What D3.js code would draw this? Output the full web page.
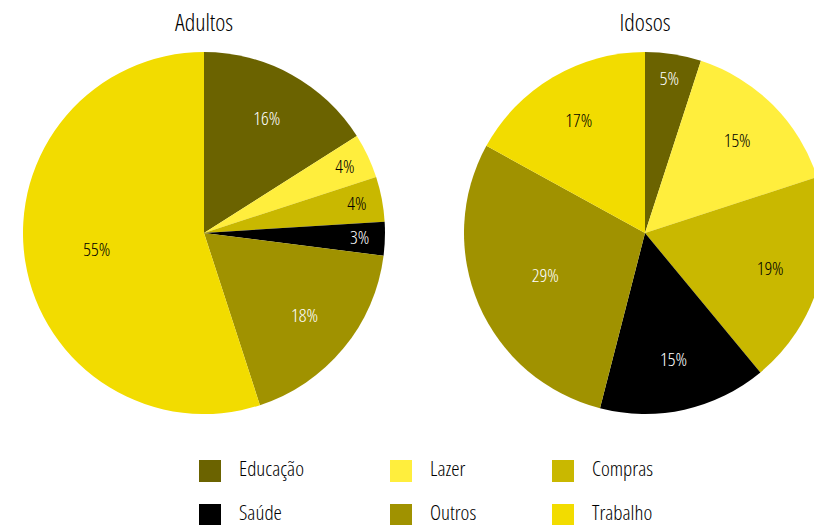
<!DOCTYPE html>
<html>
<head>
<meta charset="utf-8">
<script src="https://cdn.jsdelivr.net/npm/d3@7"></script>
<style>
  body { margin: 0; background: #fff; }
  svg { display: block; }
  text { font-family: "Open Sans", "Roboto", sans-serif; font-stretch: 75%; font-weight: 350; }
</style>
</head>
<body>
<div id="chart"></div>
<script>
// categories and values (percent)
const categories = ["Educação", "Lazer", "Compras", "Saúde", "Outros", "Trabalho"];
const adultos = [16, 4, 4, 3, 18, 55];
const idosos = [5, 15, 19, 15, 29, 17];
const groups = ["Adultos", "Idosos"];
const legendOrder = ["Educação", "Lazer", "Compras", "Saúde", "Outros", "Trabalho"];

const colors = ["#6b6300", "#ffee3d", "#c9b800", "#000000", "#a09200", "#f2dc00"];
const darkCats = ["Educação", "Saúde", "Outros"];

const width = 814, height = 525;
const radius = 181;

const svg = d3.select("#chart")
  .append("svg")
  .attr("width", width)
  .attr("height", height);

const color = d3.scaleOrdinal().domain(categories).range(colors);

const pie = d3.pie().sort(null).value(function(d) { return d.value; });
const arc = d3.arc().innerRadius(0).outerRadius(radius);

// label radius depends on slice size, roughly like the original
function labelRadius(p) {
  if (p < 0.08) return radius * 0.86;
  if (p < 0.25) return radius * 0.72;
  return radius * 0.6;
}

const centers = [[204, 233], [645, 233]];
const series = [adultos, idosos];

series.forEach(function(vals, gi) {
  const data = categories.map(function(c, i) { return { cat: c, value: vals[i] }; });
  const total = d3.sum(vals);
  const g = svg.append("g")
    .attr("transform", "translate(" + centers[gi][0] + "," + centers[gi][1] + ")");

  const arcs = pie(data);

  g.selectAll("path")
    .data(arcs)
    .enter().append("path")
    .attr("d", arc)
    .attr("fill", function(d) { return color(d.data.cat); });

  g.selectAll("text.lbl")
    .data(arcs)
    .enter().append("text")
    .attr("class", "lbl")
    .attr("transform", function(d) {
      const a = (d.startAngle + d.endAngle) / 2;
      const r = labelRadius(d.data.value / total);
      return "translate(" + (Math.sin(a) * r) + "," + (-Math.cos(a) * r) + ")";
    })
    .attr("text-anchor", "middle")
    .attr("dy", "0.32em")
    .style("font-size", "19px")
    .attr("fill", function(d) { return darkCats.includes(d.data.cat) ? "#fff" : "#000"; })
    .text(function(d) { return d.data.value + "%"; });

  svg.append("text")
    .attr("x", centers[gi][0])
    .attr("y", 31)
    .attr("text-anchor", "middle")
    .style("font-size", "24px")
    .attr("fill", "#000")
    .text(groups[gi]);
});

// legend
const legX = [199, 390, 552];
const legY = [460, 504];
const legend = svg.append("g");
legend.selectAll("rect")
  .data(legendOrder)
  .enter().append("rect")
  .attr("x", function(d, i) { return legX[i % 3]; })
  .attr("y", function(d, i) { return legY[Math.floor(i / 3)]; })
  .attr("width", 22)
  .attr("height", 22)
  .attr("fill", function(d) { return color(d); });

legend.selectAll("text")
  .data(legendOrder)
  .enter().append("text")
  .attr("x", function(d, i) { return legX[i % 3] + 40; })
  .attr("y", function(d, i) { return legY[Math.floor(i / 3)] + 16; })
  .style("font-size", "21px")
  .attr("fill", "#000")
  .text(function(d) { return d; });
</script>
</body>
</html>
